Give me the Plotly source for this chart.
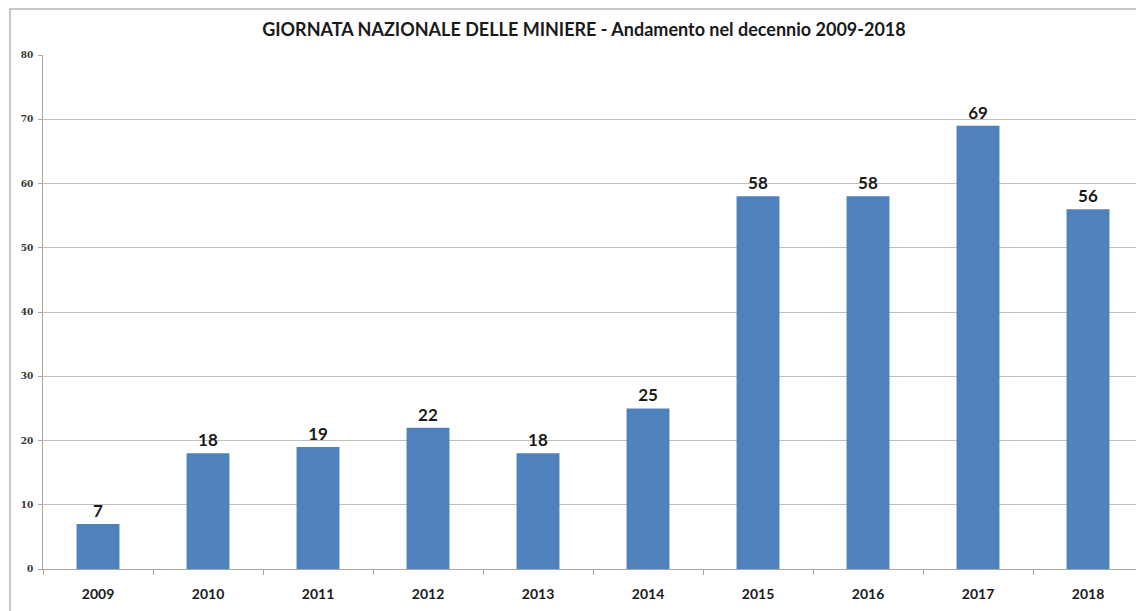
import plotly.graph_objects as go

years = ["2009", "2010", "2011", "2012", "2013", "2014", "2015", "2016", "2017", "2018"]
values = [7, 18, 19, 22, 18, 25, 58, 58, 69, 56]
y_ticks = [0, 10, 20, 30, 40, 50, 60, 70, 80]
title_text = "GIORNATA NAZIONALE DELLE MINIERE - Andamento nel decennio 2009-2018"

W, H = 1136, 603
L, T, B, R = 35, 47, 42, 1
plot_w = W - L - R
plot_h = H - T - B

fig = go.Figure()
fig.add_trace(go.Bar(
    x=years, y=values,
    marker=dict(color="#4F81BD", line=dict(width=0)),
    text=[str(v) for v in values],
    textposition="outside",
    textfont=dict(family="Lato", size=17, color="#1a1a1a", weight="bold"),
    cliponaxis=False,
    width=0.39,
))

fig.update_layout(
    width=W, height=H,
    margin=dict(l=L, r=R, t=T, b=B),
    paper_bgcolor="white", plot_bgcolor="white",
    showlegend=False,
    title=dict(text="<b>" + title_text + "</b>", x=0.507, xanchor="center",
               y=1 - 22 / H, yanchor="middle",
               font=dict(family="Lato", size=18, color="#1a1a1a")),
    xaxis=dict(
        type="category",
        tickson="boundaries", ticks="outside", ticklen=5, tickcolor="#A6A6A6",
        showline=True, linecolor="#A6A6A6", linewidth=1,
        showgrid=False,
        ticklabelstandoff=12,
        tickfont=dict(family="Lato", size=14, color="#1a1a1a", weight="bold"),
    ),
    yaxis=dict(
        range=[0, 80], tickvals=y_ticks,
        ticks="outside", ticklen=4, tickcolor="#A6A6A6",
        showline=True, linecolor="#A6A6A6", linewidth=1,
        showgrid=True, gridcolor="#BFBFBF", gridwidth=1,
        zeroline=False,
        ticklabelstandoff=3,
        tickfont=dict(family="DejaVu Serif", size=9, color="#333333", weight="bold"),
    ),
    shapes=[dict(
        type="rect", xref="paper", yref="paper",
        x0=(2 - L) / plot_w, x1=1.05, y0=-0.2, y1=1 + (T - 1) / plot_h,
        line=dict(color="#C8C8C8", width=2), fillcolor="rgba(0,0,0,0)", layer="below",
    )],
)

fig.write_html("out.html")
